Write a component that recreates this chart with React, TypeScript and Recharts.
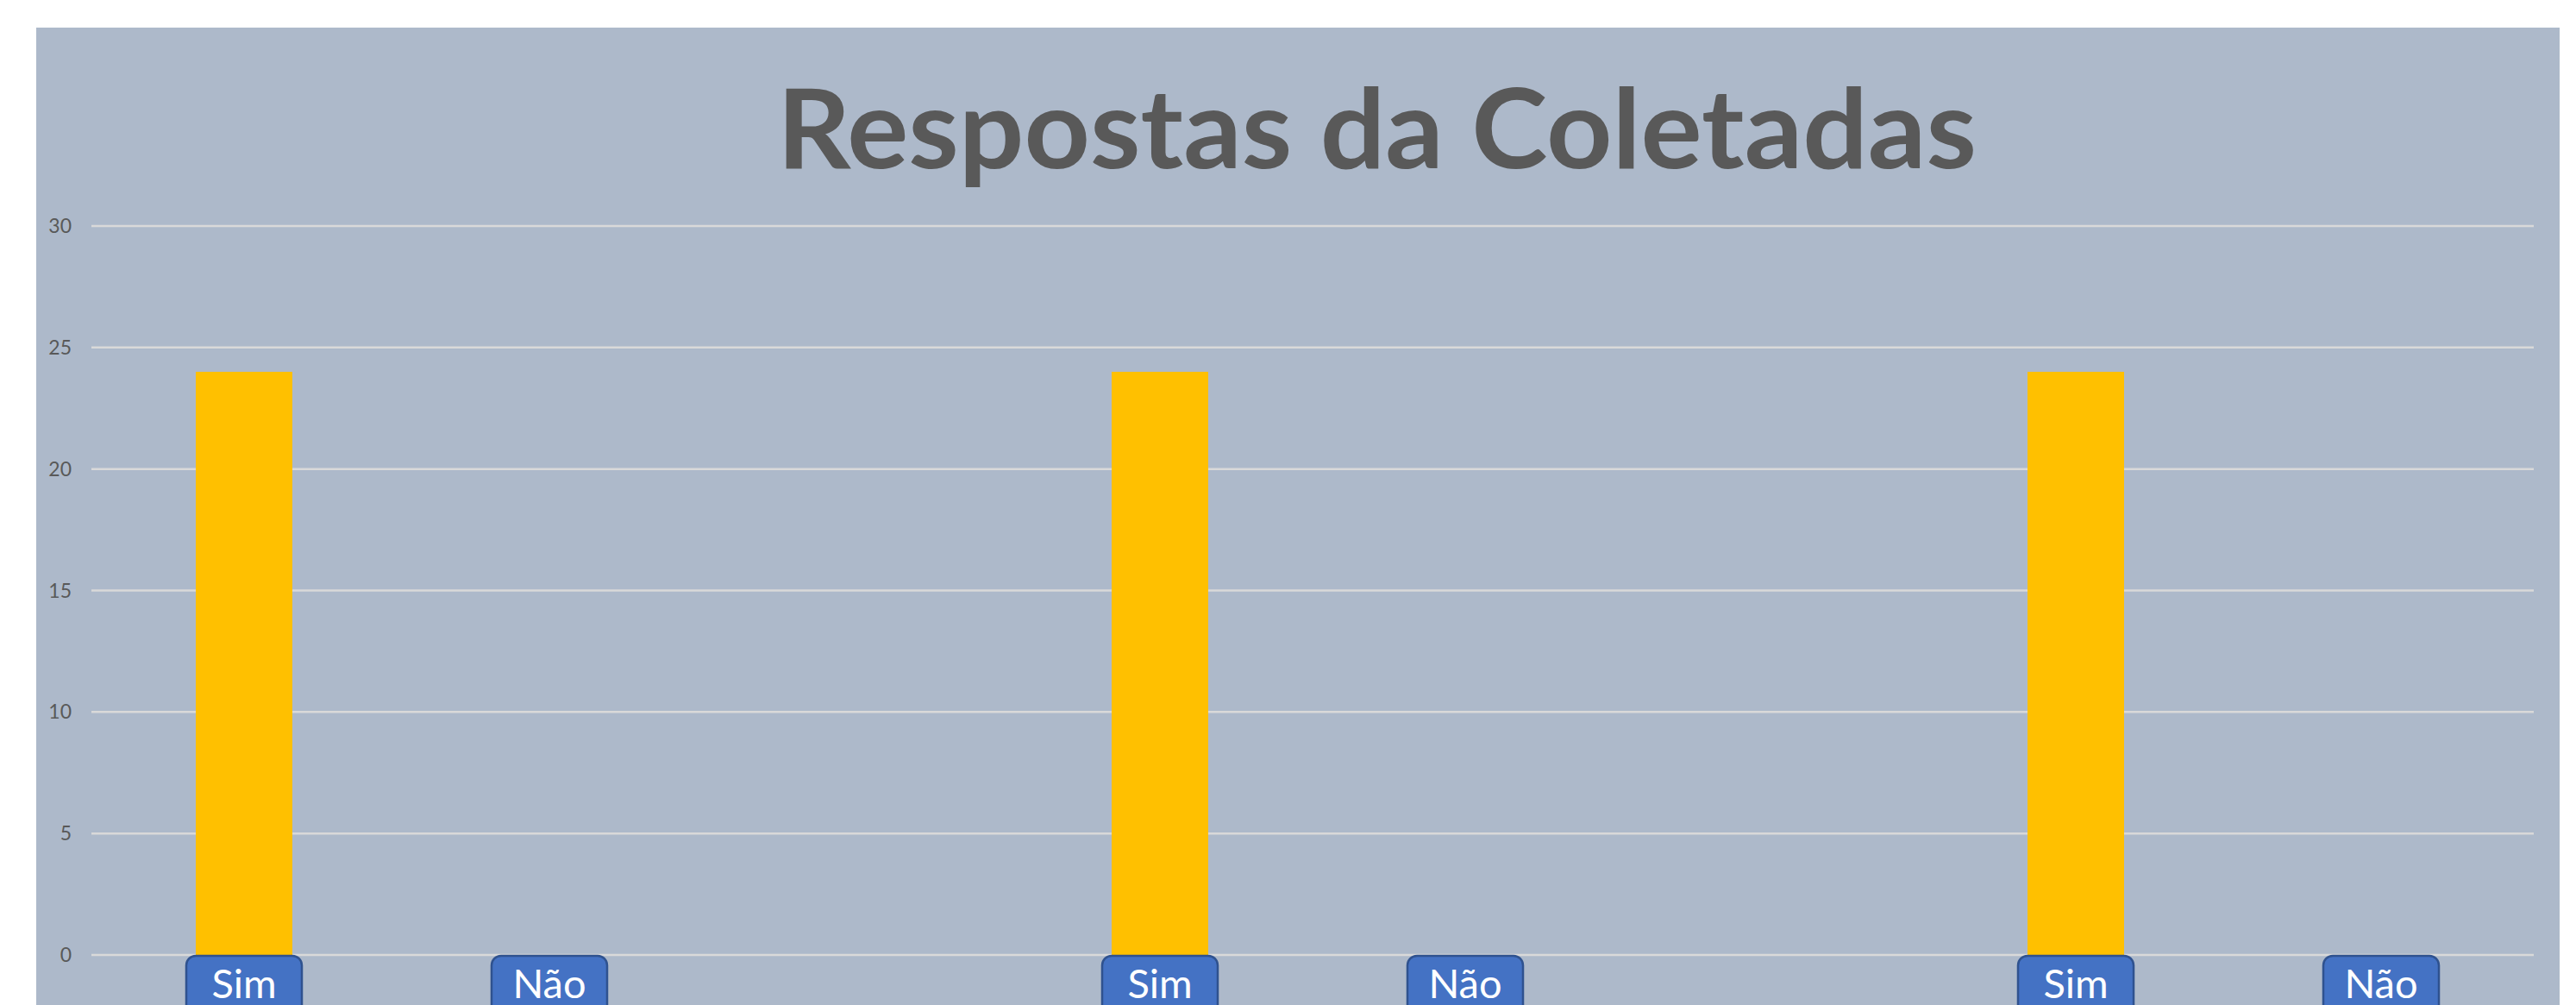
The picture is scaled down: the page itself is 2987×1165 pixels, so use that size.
import { BarChart, Bar, XAxis, YAxis, CartesianGrid } from "recharts";

const categories = ["Sim", "Não", "", "Sim", "Não", "", "Sim", "Não"];
const respostas = [24, 0, 0, 24, 0, 0, 24, 0];
const yTicks = [0, 5, 10, 15, 20, 25, 30];
const title = "Respostas da Coletadas";

const data = categories.map((name, i) => ({ name, value: respostas[i] }));

function CategoryTick(props: any) {
  const { x, y, payload } = props;
  if (!payload?.value) return null;
  return (
    <g>
      <rect
        x={x - 67}
        y={y + 1}
        width={134}
        height={72}
        rx={11}
        fill="#4472C4"
        stroke="#2F528F"
        strokeWidth={2.5}
      />
      <text
        x={x}
        y={y + 50}
        textAnchor="middle"
        fontSize={47}
        fontFamily="Lato, 'Open Sans', sans-serif"
        fill="#ffffff"
      >
        {payload.value}
      </text>
    </g>
  );
}

export default function App() {
  return (
    <div
      style={{
        position: "absolute",
        left: 0,
        top: 0,
        width: 2987,
        height: 1165,
        background: "#ffffff",
        overflow: "hidden",
      }}
    >
      {/* chart area background */}
      <div
        style={{
          position: "absolute",
          left: 42,
          top: 32,
          width: 2926,
          height: 1200,
          background: "#ADB9CA",
        }}
      />
      <div style={{ position: "absolute", left: 0, top: 0 }}>
        <BarChart
          width={2987}
          height={1165}
          data={data}
          margin={{ top: 262, right: 49, left: 0, bottom: 0 }}
        >
          <CartesianGrid vertical={false} stroke="#D9D9D9" strokeWidth={2.5} />
          <XAxis
            dataKey="name"
            height={58}
            axisLine={false}
            tickLine={false}
            tickSize={0}
            tickMargin={0}
            interval={0}
            tick={<CategoryTick />}
          />
          <YAxis
            width={106}
            domain={[0, 30]}
            ticks={yTicks}
            axisLine={false}
            tickLine={false}
            tickSize={0}
            tickMargin={23}
            tick={{
              fontSize: 23,
              fill: "#595959",
              fontFamily: "Lato, 'Open Sans', sans-serif",
            }}
          />
          <Bar dataKey="value" fill="#FFC000" barSize={112} isAnimationActive={false} />
        </BarChart>
      </div>
      <svg
        width={2987}
        height={300}
        style={{ position: "absolute", left: 0, top: 0, pointerEvents: "none" }}
      >
        <text
          x={901}
          y={195}
          textLength={1391}
          lengthAdjust="spacingAndGlyphs"
          fontSize={128}
          fontWeight={700}
          fontFamily="Lato, 'Open Sans', sans-serif"
          fill="#595959"
        >
          {title}
        </text>
      </svg>
    </div>
  );
}
